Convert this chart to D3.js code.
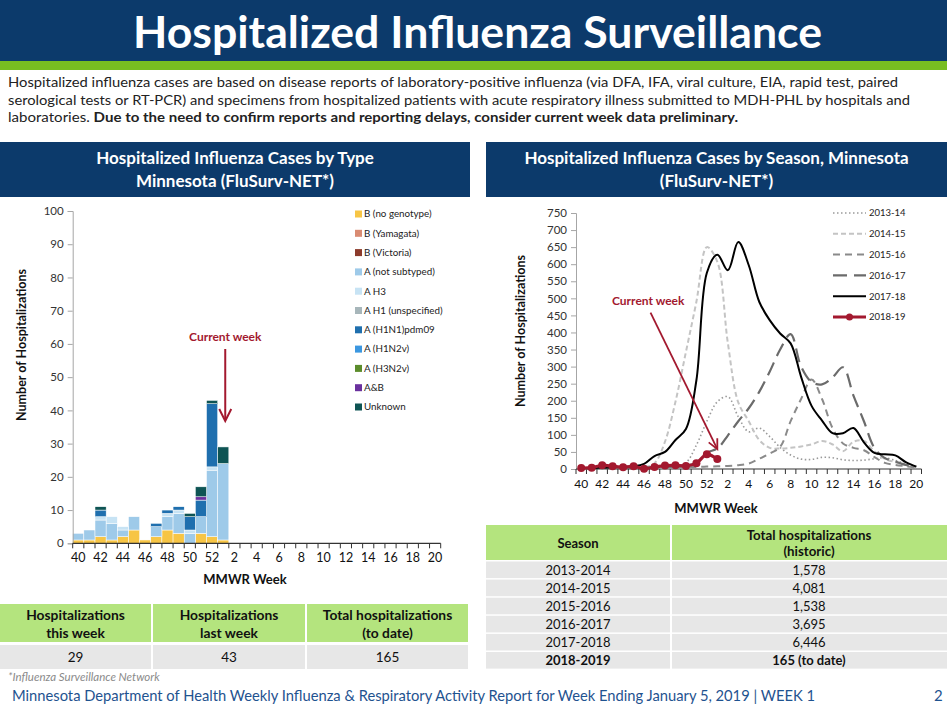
<!DOCTYPE html>
<html>
<head>
<meta charset="utf-8">
<script src="https://cdn.jsdelivr.net/npm/d3@7"></script>
<style>
  body { margin: 0; background: #fff; }
  text { font-family: Lato, "Open Sans", sans-serif; }
</style>
</head>
<body>
<svg id="page" width="947" height="712"></svg>
<script>
// MMWR weeks shown on both charts (season runs week 40 to week 20)
const weeks = [40,41,42,43,44,45,46,47,48,49,50,51,52,1,2,3,4,5,6,7,8,9,10,11,12,13,14,15,16,17,18,19,20];

// cases by type, weeks 40..52 then week 1 (later weeks have no data yet)
const typeNames = ["B (no genotype)", "B (Yamagata)", "B (Victoria)", "A (not subtyped)", "A H3",
  "A H1 (unspecified)", "A (H1N1)pdm09", "A (H1N2v)", "A (H3N2v)", "A&B", "Unknown"];
const typeColors = ["#f7c545", "#d98b72", "#8c3b2c", "#9ecae9", "#c7e3f4",
  "#a7b6ba", "#1f6fae", "#3b97e0", "#5b8c2b", "#6a319e", "#0e5454"];
const bNoGenotype = [1,1,2,1,2,4,1,2,4,3,0,3,2,1];
const bYamagata   = [0,0,0,0,0,0,0,0,0,0,0,0,0,0];
const bVictoria   = [0,0,0,0,0,0,0,0,0,0,0,0,0,0];
const aNotSubtyped= [2,3,5,5,2,4,0,3,4,6,3,5,20,23];
const aH3         = [0,0,1,2,1,0,0,0,1,1,1,0,1,0];
const aH1Unspec   = [0,0,0,0,0,0,0,0,0,0,0,0,0,0];
const aH1N1pdm    = [0,0,2,0,0,0,0,1,1,1,4,5,19,0];
const aH1N2v      = [0,0,0,0,0,0,0,0,0,0,0,0,0,0];
const aH3N2v      = [0,0,0,0,0,0,0,0,0,0,0,0,0,0];
const aAndB       = [0,0,0,0,0,0,0,0,0,0,0,1,0,0];
const unknownType = [0,0,1,0,0,0,0,0,0,0,1,3,1,5];

// hospitalizations by season, one value per week in `weeks`
const seasonNames = ["2013-14", "2014-15", "2015-16", "2016-17", "2017-18", "2018-19"];
const s1314 = [3,3,4,4,4,5,5,6,6,8,18,70,140,197,212,153,109,120,95,63,41,29,28,34,33,27,25,26,30,33,25,15,7];
const s1415 = [3,3,4,4,5,5,5,17,80,197,343,490,650,607,370,195,140,85,62,60,62,66,72,82,72,52,80,82,52,30,20,12,5];
const s1516 = [2,2,2,3,3,3,4,4,5,5,6,6,7,8,9,11,16,30,45,65,140,205,262,205,120,75,62,55,35,18,12,8,4];
const s1617 = [2,2,3,3,3,4,4,5,6,8,10,18,48,60,98,140,178,226,285,350,395,300,255,248,268,298,215,140,62,32,22,12,7];
const s1718 = [3,3,4,5,6,8,15,38,50,85,117,260,575,628,582,665,597,490,436,397,368,270,185,142,105,105,120,78,47,43,40,20,7];
const s1819 = [3,4,11,8,5,8,1,6,10,11,9,17,43,29];

// tables
const summaryHeads = [["Hospitalizations", "this week"], ["Hospitalizations", "last week"], ["Total hospitalizations", "(to date)"]];
const summaryValues = ["29", "43", "165"];
const seasonRows = ["2013-2014", "2014-2015", "2015-2016", "2016-2017", "2017-2018", "2018-2019"];
const seasonTotals = ["1,578", "4,081", "1,538", "3,695", "6,446", "165 (to date)"];

const navy = "#0c3a6b", green = "#78be21", tableGreen = "#b4e47e", rowGrey = "#e7e7e7", crimson = "#a3192f";
const svg = d3.select("#page");

// ---- page banner and intro text
svg.append("rect").attr("x", 0).attr("y", 0).attr("width", 947).attr("height", 61).attr("fill", navy);
svg.append("rect").attr("x", 0).attr("y", 61).attr("width", 947).attr("height", 9).attr("fill", green);
svg.append("text").attr("x", 133).attr("y", 48).attr("textLength", 689).attr("lengthAdjust", "spacingAndGlyphs")
  .attr("font-size", 44).attr("font-weight", 700).attr("fill", "#fff").text("Hospitalized Influenza Surveillance");

const intro = [
  "Hospitalized influenza cases are based on disease reports of laboratory-positive influenza (via DFA, IFA, viral culture, EIA, rapid test, paired",
  "serological tests or RT-PCR) and specimens from hospitalized patients with acute respiratory illness submitted to MDH-PHL by hospitals and"
];
const introLen = [890, 902];
intro.forEach((t, i) => {
  svg.append("text").attr("x", 8).attr("y", 87 + i * 17.5).attr("font-size", 14).attr("fill", "#222")
    .attr("textLength", introLen[i]).attr("lengthAdjust", "spacingAndGlyphs").text(t);
});
const l3 = svg.append("text").attr("x", 8).attr("y", 122).attr("font-size", 14).attr("fill", "#222")
  .attr("textLength", 730).attr("lengthAdjust", "spacingAndGlyphs");
l3.append("tspan").text("laboratories. ");
l3.append("tspan").attr("font-weight", 700).text("Due to the need to confirm reports and reporting delays, consider current week data preliminary.");

// panel headers
[[0, 470, ["Hospitalized Influenza Cases by Type", "Minnesota (FluSurv-NET*)"]],
 [486, 461, ["Hospitalized Influenza Cases by Season, Minnesota", "(FluSurv-NET*)"]]].forEach(([x, w, lines]) => {
  svg.append("rect").attr("x", x).attr("y", 142).attr("width", w).attr("height", 55).attr("fill", navy);
  lines.forEach((t, i) => svg.append("text").attr("x", x + w / 2).attr("y", 164 + i * 23)
    .attr("text-anchor", "middle").attr("font-size", 17).attr("font-weight", 700).attr("fill", "#fff").text(t));
});

// ---- left chart: stacked bars by type
const typeSeries = [bNoGenotype, bYamagata, bVictoria, aNotSubtyped, aH3, aH1Unspec, aH1N1pdm, aH1N2v, aH3N2v, aAndB, unknownType];
const rows = weeks.map((w, i) => {
  const r = { week: w };
  typeNames.forEach((n, k) => r[n] = typeSeries[k][i] || 0);
  return r;
});
const stack = d3.stack().keys(typeNames)(rows);

const xL = d3.scaleBand().domain(weeks).range([72.7, 440.7]).padding(0);
const yL = d3.scaleLinear().domain([0, 100]).range([543.3, 211]);

svg.append("g").selectAll("g").data(stack).join("g").attr("fill", (d, i) => typeColors[i])
  .selectAll("rect").data(d => d).join("rect")
  .attr("x", d => xL(d.data.week)).attr("width", xL.bandwidth())
  .attr("y", d => yL(d[1])).attr("height", d => yL(d[0]) - yL(d[1]))
  .attr("stroke", "#fff").attr("stroke-width", 0.5);

const axisGrey = "#a6a6a6";
const yAxisL = svg.append("g").attr("transform", "translate(72.7,0)")
  .call(d3.axisLeft(yL).tickValues(d3.range(0, 101, 10)).tickSize(5).tickPadding(4));
yAxisL.selectAll("path, line").attr("stroke", axisGrey);
yAxisL.selectAll("text").attr("font-size", 11.5).attr("fill", "#333").attr("font-family", "Lato, sans-serif");

function weekAxis(x, y0, fontSize) {
  const g = svg.append("g");
  g.append("line").attr("x1", x.range()[0]).attr("x2", x.range()[1]).attr("y1", y0).attr("y2", y0)
    .attr("stroke", "#333").attr("stroke-width", 1.2);
  const bounds = weeks.map(w => x(w)).concat([x.range()[1]]);
  g.selectAll(".tk").data(bounds).join("line").attr("x1", d => d).attr("x2", d => d)
    .attr("y1", y0).attr("y2", y0 + 5).attr("stroke", "#333");
  g.selectAll(".lb").data(weeks.filter(w => w % 2 === 0)).join("text")
    .attr("x", d => x(d) + x.bandwidth() / 2).attr("y", y0 + 19).attr("text-anchor", "middle")
    .attr("font-size", fontSize).attr("fill", "#111").text(d => d);
}
weekAxis(xL, 543.3, 12.5);

svg.append("text").attr("x", 245).attr("y", 584).attr("text-anchor", "middle").attr("font-size", 13)
  .attr("font-weight", 700).attr("fill", "#111").text("MMWR Week");
svg.append("text").attr("transform", "translate(26,345) rotate(-90)").attr("text-anchor", "middle")
  .attr("font-size", 12.5).attr("font-weight", 700).attr("fill", "#111").text("Number of Hospitalizations");

// legend (top entry is first type)
const legL = svg.append("g").selectAll("g").data(typeNames).join("g")
  .attr("transform", (d, i) => `translate(355,${214 + i * 19.3})`);
legL.append("rect").attr("x", 0).attr("y", -3.5).attr("width", 7).attr("height", 7).attr("fill", (d, i) => typeColors[i]);
legL.append("text").attr("x", 9).attr("y", 3.3).attr("font-size", 9.8).attr("fill", "#222").text(d => d);

// current week marker
const cwL = xL(1) + xL.bandwidth() / 2 + 2;
svg.append("text").attr("x", cwL).attr("y", 341).attr("text-anchor", "middle").attr("font-size", 12)
  .attr("font-weight", 700).attr("fill", crimson).text("Current week");
svg.append("line").attr("x1", cwL).attr("x2", cwL).attr("y1", 349).attr("y2", 420)
  .attr("stroke", crimson).attr("stroke-width", 2);
svg.append("path").attr("d", `M${cwL - 6},${409} L${cwL},${421} L${cwL + 6},${409}`)
  .attr("fill", "none").attr("stroke", crimson).attr("stroke-width", 2);

// ---- right chart: lines by season
const xR = d3.scaleBand().domain(weeks).range([576, 921.5]).padding(0);
const cx = w => xR(w) + xR.bandwidth() / 2;
const yR = d3.scaleLinear().domain([0, 750]).range([469, 213]);

const yAxisR = svg.append("g").attr("transform", "translate(576,0)")
  .call(d3.axisLeft(yR).tickValues(d3.range(0, 751, 50)).tickSize(5).tickPadding(4));
yAxisR.selectAll("path, line").attr("stroke", axisGrey);
yAxisR.selectAll("text").attr("font-size", 11.5).attr("fill", "#333").attr("font-family", "Lato, sans-serif");
weekAxis(xR, 469, 12);

svg.append("text").attr("x", 716).attr("y", 513).attr("text-anchor", "middle").attr("font-size", 13)
  .attr("font-weight", 700).attr("fill", "#111").text("MMWR Week");
svg.append("text").attr("transform", "translate(525,331) rotate(-90)").attr("text-anchor", "middle")
  .attr("font-size", 12.5).attr("font-weight", 700).attr("fill", "#111").text("Number of Hospitalizations");

const seasonStyles = [
  { stroke: "#9a9a9a", width: 1.6, dash: "1.5,2.5" },
  { stroke: "#c4c4c4", width: 2, dash: "5,3" },
  { stroke: "#8a8a8a", width: 2, dash: "7,5" },
  { stroke: "#6b6b6b", width: 2.2, dash: "14,7" },
  { stroke: "#000", width: 2, dash: null },
  { stroke: crimson, width: 3.2, dash: null }
];
const seasonValues = [s1314, s1415, s1516, s1617, s1718, s1819];
const line = d3.line().x(d => cx(d.week)).y(d => yR(d.v)).curve(d3.curveCatmullRom.alpha(0.5));

seasonValues.forEach((vals, i) => {
  const pts = vals.map((v, j) => ({ week: weeks[j], v }));
  const st = seasonStyles[i];
  svg.append("path").datum(pts).attr("d", line).attr("fill", "none")
    .attr("stroke", st.stroke).attr("stroke-width", st.width)
    .attr("stroke-dasharray", st.dash).attr("stroke-linejoin", "round");
  if (i === 5) {
    svg.append("g").selectAll("circle").data(pts).join("circle")
      .attr("cx", d => cx(d.week)).attr("cy", d => yR(d.v)).attr("r", 4).attr("fill", crimson);
  }
});

const legR = svg.append("g").selectAll("g").data(seasonNames).join("g")
  .attr("transform", (d, i) => `translate(833,${213 + i * 20.8})`);
legR.append("line").attr("x1", 0).attr("x2", 33).attr("y1", 0).attr("y2", 0)
  .attr("stroke", (d, i) => seasonStyles[i].stroke).attr("stroke-width", (d, i) => seasonStyles[i].width)
  .attr("stroke-dasharray", (d, i) => seasonStyles[i].dash);
legR.filter((d, i) => i === 5).append("circle").attr("cx", 16.5).attr("cy", 0).attr("r", 3.5).attr("fill", crimson);
legR.append("text").attr("x", 36).attr("y", 3.3).attr("font-size", 9.5).attr("fill", "#222").text(d => d);

// current week annotation
const tip = [cx(1), yR(58)], tail = [cx(47) - 4, yR(458)];
svg.append("text").attr("x", 612).attr("y", 305).attr("font-size", 12).attr("font-weight", 700)
  .attr("fill", crimson).text("Current week");
svg.append("line").attr("x1", tail[0]).attr("y1", tail[1]).attr("x2", tip[0]).attr("y2", tip[1])
  .attr("stroke", crimson).attr("stroke-width", 1.8);
const ang = Math.atan2(tip[1] - tail[1], tip[0] - tail[0]);
const head = [ang + Math.PI - 0.45, ang + Math.PI + 0.45].map(a => [tip[0] + 11 * Math.cos(a), tip[1] + 11 * Math.sin(a)]);
svg.append("path").attr("d", `M${head[0]} L${tip} L${head[1]}`).attr("fill", "none")
  .attr("stroke", crimson).attr("stroke-width", 1.8);

// ---- left summary table
const colsL = [[0, 151], [153, 152], [307, 161]];
colsL.forEach(([x, w], i) => {
  svg.append("rect").attr("x", x).attr("y", 604).attr("width", w).attr("height", 38).attr("fill", tableGreen);
  svg.append("rect").attr("x", x).attr("y", 645).attr("width", w).attr("height", 24).attr("fill", rowGrey);
  summaryHeads[i].forEach((t, k) => svg.append("text").attr("x", x + w / 2).attr("y", 620 + k * 17.5)
    .attr("text-anchor", "middle").attr("font-size", 13.8).attr("font-weight", 700).attr("fill", "#111").text(t));
  svg.append("text").attr("x", x + w / 2).attr("y", 662).attr("text-anchor", "middle")
    .attr("font-size", 13.5).attr("fill", "#111").text(summaryValues[i]);
});

// ---- right season table
svg.append("rect").attr("x", 486).attr("y", 525).attr("width", 184).attr("height", 35).attr("fill", tableGreen);
svg.append("rect").attr("x", 672).attr("y", 525).attr("width", 275).attr("height", 35).attr("fill", tableGreen);
svg.append("text").attr("x", 578).attr("y", 548).attr("text-anchor", "middle").attr("font-size", 13)
  .attr("font-weight", 700).attr("fill", "#111").text("Season");
["Total hospitalizations", "(historic)"].forEach((t, k) => svg.append("text").attr("x", 809).attr("y", 540 + k * 16)
  .attr("text-anchor", "middle").attr("font-size", 13.3).attr("font-weight", 700).attr("fill", "#111").text(t));
seasonRows.forEach((s, i) => {
  const y0 = 561.5 + i * 18.1;
  const last = i === seasonRows.length - 1;
  svg.append("rect").attr("x", 486).attr("y", y0).attr("width", 184).attr("height", 16.6).attr("fill", rowGrey);
  svg.append("rect").attr("x", 672).attr("y", y0).attr("width", 275).attr("height", 16.6).attr("fill", rowGrey);
  svg.append("text").attr("x", 578).attr("y", y0 + 13).attr("text-anchor", "middle").attr("font-size", 13)
    .attr("font-weight", last ? 700 : 400).attr("fill", "#111").text(s);
  svg.append("text").attr("x", 809).attr("y", y0 + 13).attr("text-anchor", "middle").attr("font-size", 13)
    .attr("font-weight", last ? 700 : 400).attr("fill", "#111").text(seasonTotals[i]);
});

// ---- footnote and footer
svg.append("text").attr("x", 8).attr("y", 681).attr("font-size", 11.5).attr("font-style", "italic")
  .attr("fill", "#8a8a8a").text("*Influenza Surveillance Network");
svg.append("text").attr("x", 12).attr("y", 701).attr("font-size", 15).attr("fill", "#1f5390")
  .attr("textLength", 803).attr("lengthAdjust", "spacingAndGlyphs")
  .text("Minnesota Department of Health Weekly Influenza & Respiratory Activity Report for Week Ending January 5, 2019 | WEEK 1");
svg.append("text").attr("x", 934).attr("y", 701).attr("font-size", 15).attr("fill", "#1f5390").text("2");
</script>
</body>
</html>
